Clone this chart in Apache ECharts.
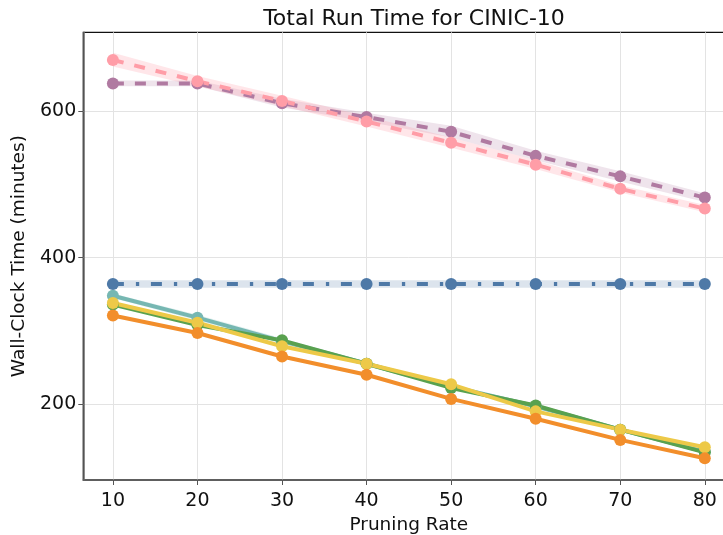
<!DOCTYPE html>
<html>
<head>
<meta charset="utf-8">
<script src="https://cdn.jsdelivr.net/npm/echarts@6/dist/echarts.min.js"></script>
<style>
  html, body { margin: 0; padding: 0; background: #fff; overflow: hidden; }
  #chart { width: 735px; height: 535px; }
</style>
</head>
<body>
<div id="chart"></div>
<script>
// Pruning rates on the x axis
const pruningRates = [10, 20, 30, 40, 50, 60, 70, 80];
const xTicks = [10, 20, 30, 40, 50, 60, 70, 80];
const yTicks = [200, 400, 600];

// Mean wall-clock time (minutes) per method
const pinkTimes   = [670, 641, 614, 586, 557, 527, 494, 467];
const purpleTimes = [638, 638, 611, 592, 572, 539, 511, 482];
const blueTimes   = [364, 364, 364, 364, 364, 364, 364, 364];
const tealTimes   = [348, 318, 286, 255, 224, 197, 165, 135];
const greenTimes  = [336, 308, 287, 255, 222, 198, 165, 134];
const yellowTimes = [338, 311, 279, 255, 227, 190, 165, 141];
const orangeTimes = [321, 297, 265, 240, 207, 180, 151, 126];

// Spread bands (lower / upper) per method
const pinkLower   = [661, 634, 607, 579, 550, 521, 489, 462];
const pinkUpper   = [680, 648, 621, 593, 564, 533, 499, 472];
const purpleLower = [634, 634, 605, 586, 564, 533, 504, 476];
const purpleUpper = [642, 642, 617, 598, 580, 546, 518, 488];
const blueLower   = [359, 359, 359, 359, 359, 359, 359, 359];
const blueUpper   = [369, 369, 369, 369, 369, 369, 369, 369];
const tealLower   = [345, 314, 282, 252, 221, 194, 162, 132];
const tealUpper   = [351, 322, 290, 258, 227, 200, 168, 138];

const FONT = '"DejaVu Sans", sans-serif';

function pairs(vals) {
  return pruningRates.map((x, i) => [x, vals[i]]);
}

// Filled polygon between a lower and an upper curve
function band(lower, upper, color) {
  const rows = pruningRates.map((x, i) => [x, lower[i], upper[i]]);
  return {
    type: 'custom', silent: true, z: 1,
    data: rows,
    encode: { x: 0, y: [1, 2] },
    renderItem: function (params, api) {
      if (params.dataIndex !== 0) return;
      const top = rows.map(r => api.coord([r[0], r[2]]));
      const bottom = rows.map(r => api.coord([r[0], r[1]])).reverse();
      return {
        type: 'polygon',
        shape: { points: top.concat(bottom) },
        style: { fill: color }
      };
    }
  };
}

function line(name, vals, color, dash) {
  return {
    type: 'line', name: name, data: pairs(vals),
    symbol: 'circle', symbolSize: 12,
    itemStyle: { color: color },
    lineStyle: { color: color, width: 4, type: dash || 'solid' },
    z: 3
  };
}

const chart = echarts.init(document.getElementById('chart'), null, { renderer: 'canvas' });

chart.setOption({
  animation: false,
  backgroundColor: '#ffffff',
  title: {
    text: 'Total Run Time for CINIC-10',
    left: 409, top: 3, textAlign: 'center',
    textStyle: { fontFamily: FONT, fontSize: 22, fontWeight: 'normal', color: '#111' }
  },
  grid: {
    left: 83.3, top: 32.3, right: 0.6, bottom: 55,
    outerBoundsMode: 'none', containLabel: false,
    show: true, borderColor: '#111', borderWidth: 1.3, backgroundColor: 'transparent'
  },
  xAxis: {
    type: 'value', min: 6.5, max: 83.5,
    name: 'Pruning Rate', nameLocation: 'middle', nameGap: 33,
    nameTextStyle: { fontFamily: FONT, fontSize: 18.5, color: '#111' },
    axisLine: { show: true, lineStyle: { color: '#666', width: 1.5 } },
    axisTick: { show: true, length: 5, customValues: xTicks, lineStyle: { color: '#555', width: 1 } },
    axisLabel: { customValues: xTicks, margin: 12, fontFamily: FONT, fontSize: 19, color: '#111' },
    splitLine: { show: true, lineStyle: { color: '#e3e3e3', width: 1 } }
  },
  yAxis: {
    type: 'value', min: 96.25, max: 707.8,
    name: 'Wall-Clock Time (minutes)', nameLocation: 'middle', nameGap: 49, nameRotate: 90,
    nameTextStyle: { fontFamily: FONT, fontSize: 18.5, color: '#111' },
    axisLine: { show: true, lineStyle: { color: '#666', width: 1.5 } },
    axisTick: { show: true, length: 5, customValues: yTicks, lineStyle: { color: '#555', width: 1 } },
    axisLabel: { customValues: yTicks, margin: 7, fontFamily: FONT, fontSize: 19, color: '#111' },
    splitLine: { show: true, lineStyle: { color: '#e3e3e3', width: 1 } }
  },
  series: [
    band(purpleLower, purpleUpper, 'rgba(176,122,161,0.2)'),
    band(pinkLower, pinkUpper, 'rgba(255,157,167,0.25)'),
    band(blueLower, blueUpper, 'rgba(78,121,167,0.2)'),
    band(tealLower, tealUpper, 'rgba(118,183,178,0.2)'),
    line('purple', purpleTimes, '#b07aa1', [11, 11]),
    line('pink', pinkTimes, '#ff9da7', [11, 11]),
    line('blue', blueTimes, '#4e79a7', [11, 12, 3.3, 11.7]),
    line('teal', tealTimes, '#76b7b2'),
    line('green', greenTimes, '#59a14f'),
    line('yellow', yellowTimes, '#edc948'),
    line('orange', orangeTimes, '#f28e2b')
  ]
});
</script>
</body>
</html>
